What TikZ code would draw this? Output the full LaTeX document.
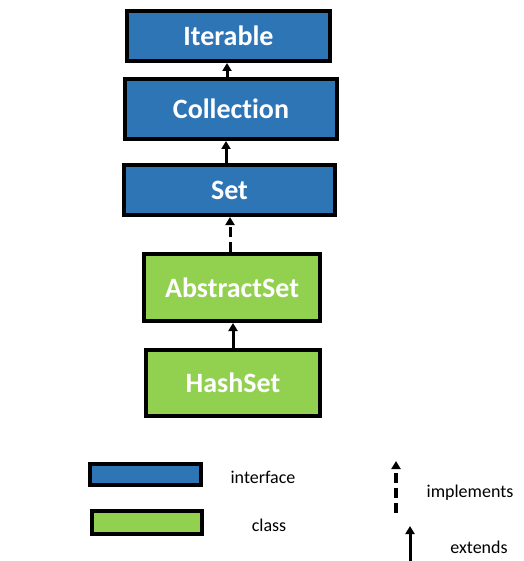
\documentclass[tikz,border=0pt]{standalone}
\usepackage{fontspec}
\setmainfont{Carlito}[Ligatures=NoCommon]
\usetikzlibrary{%
  arrows.meta,%
  positioning,%
  calc%
}
\definecolor{ifblue}{HTML}{2E75B6}
\definecolor{clgreen}{HTML}{92D050}

\begin{document}
\begin{tikzpicture}[
  x=1pt, y=-1pt, line width=3pt, draw=black,
  iface/.style={rectangle, draw=black, fill=ifblue, line width=4pt, text=white, font=\fontsize{28}{32}\selectfont\bfseries},
  klass/.style={rectangle, draw=black, fill=clgreen, line width=4pt, text=white, font=\fontsize{28}{32}\selectfont\bfseries},
  extends/.style={-{Triangle[width=9pt,length=8pt]}, line width=3pt},
  implements/.style={extends, dash pattern=on 10pt off 5pt},
  legend/.style={font=\fontsize{18}{22}\selectfont}
]

\useasboundingbox (0,0) rectangle (523,561);

% hierarchy
\node[iface, minimum width=203pt, minimum height=50pt] (iterable) at (228.5,36) {Iterable};
\node[iface, minimum width=212pt, minimum height=60pt] (collection) at (231,109) {Collection};
\node[iface, minimum width=211pt, minimum height=50pt] (set) at (229.5,190) {Set};
\node[klass, minimum width=176pt, minimum height=67pt] (abstractset) at (232,287.5) {AbstractSet};
\node[klass, minimum width=174pt, minimum height=66pt] (hashset) at (233,383) {HashSet};

\draw[extends] ([xshift=-4pt]collection.north) -- ([xshift=-4pt]collection.north |- iterable.south);
\draw[extends] ([xshift=-3.5pt]set.north) -- ([xshift=-3.5pt]set.north |- collection.south);
\draw[implements] ([xshift=-2pt]abstractset.north) -- ([xshift=-2pt]abstractset.north |- set.south);
\draw[extends] (hashset.north) -- (hashset.north |- abstractset.south);

% legend
\node[iface, minimum width=111pt, minimum height=21pt] (lgiface) at (145.5,474.5) {};
\node[klass, minimum width=110pt, minimum height=23pt] (lgclass) at (147,522.5) {};
\node[legend] (tiface) at (263,477) {interface};
\node[legend] (tclass) at (269,525) {class};

\coordinate (impl-s) at (396,513);
\coordinate (impl-e) at (396,461);
\draw[implements, line width=4pt] (impl-s) -- (impl-e);
\node[legend] (timpl) at (470,493) {implements};

\coordinate (ext-s) at (410,561);
\coordinate (ext-e) at (410,526);
\draw[extends] (ext-s) -- (ext-e);
\node[legend] (text) at (479,547) {extends};

\end{tikzpicture}
\end{document}
